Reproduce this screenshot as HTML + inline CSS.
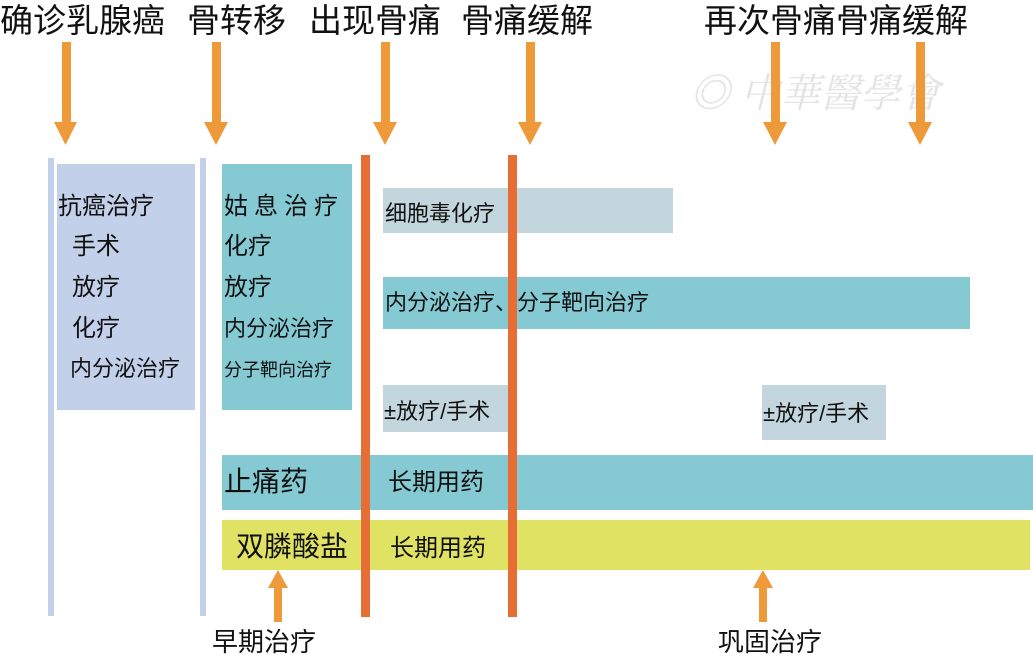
<!DOCTYPE html>
<html><head><meta charset="utf-8"><style>
body{margin:0;width:1033px;height:660px;background:#fff;position:relative;overflow:hidden;font-family:"Liberation Sans","Noto Sans CJK SC",sans-serif;color:#111}
div{position:absolute}
.t{font-size:33px;top:0;line-height:42px;white-space:nowrap}
.s{font-size:23px;white-space:nowrap;line-height:40px}
</style></head><body>
<div class="t" style="left:0">确诊乳腺癌</div>
<div class="t" style="left:187px">骨转移</div>
<div class="t" style="left:309px">出现骨痛</div>
<div class="t" style="left:461px">骨痛缓解</div>
<div class="t" style="left:704px">再次骨痛骨痛缓解</div>
<div style="left:690px;top:62px;font-size:40px;color:#e4e4e4;font-style:italic;white-space:nowrap;font-family:'Noto Serif CJK SC',serif">◎ 中華醫學會</div>

<svg width="1033" height="660" style="position:absolute;left:0;top:0">
<g fill="#ee9a3a">
<rect x="62" y="42" width="9" height="82"/><polygon points="54,122 77,122 65.5,145"/>
<rect x="212" y="42" width="9" height="82"/><polygon points="204,122 228,122 216,145"/>
<rect x="381" y="42" width="9" height="82"/><polygon points="373,122 397,122 385,145"/>
<rect x="526" y="42" width="9" height="82"/><polygon points="518,122 542,122 530,145"/>
<rect x="771" y="42" width="9" height="82"/><polygon points="763,122 787,122 775,145"/>
<rect x="916" y="42" width="9" height="82"/><polygon points="908,122 932,122 920,145"/>
<rect x="274" y="586" width="8" height="36"/><polygon points="268,588 288,588 278,570"/>
<rect x="759" y="586" width="8" height="36"/><polygon points="753,588 773,588 763,570"/>
</g>
<rect x="48" y="158" width="6" height="458" fill="#c3d0ea"/>
<rect x="200" y="158" width="6" height="458" fill="#c3d0ea"/>
<rect x="57" y="164" width="138" height="246" fill="#c3d0ea"/>
<rect x="222" y="164" width="130" height="246" fill="#85c9d3"/>
<rect x="383" y="188" width="290" height="45" fill="#c3d6dd"/>
<rect x="383" y="277" width="587" height="52" fill="#85c9d3"/>
<rect x="383" y="385" width="125" height="47" fill="#c3d6dd"/>
<rect x="762" y="385" width="124" height="55" fill="#c3d6dd"/>
<rect x="222" y="455" width="811" height="55" fill="#85c9d3"/>
<rect x="222" y="520" width="808" height="50" fill="#dfe262"/>
<rect x="361" y="155" width="9" height="462" fill="#e66e34"/>
<rect x="508" y="155" width="9" height="462" fill="#e66e34"/>
</svg>

<div class="s" style="left:58px;top:187px;font-size:24px">抗癌治疗</div>
<div class="s" style="left:72px;top:227px;font-size:24px">手术</div>
<div class="s" style="left:72px;top:268px;font-size:24px">放疗</div>
<div class="s" style="left:72px;top:309px;font-size:24px">化疗</div>
<div class="s" style="left:70px;top:349px;font-size:22px">内分泌治疗</div>
<div class="s" style="left:224px;top:187px;letter-spacing:6px;font-size:24px">姑息治疗</div>
<div class="s" style="left:224px;top:227px;font-size:24px">化疗</div>
<div class="s" style="left:224px;top:268px;font-size:24px">放疗</div>
<div class="s" style="left:224px;top:309px;font-size:22px">内分泌治疗</div>
<div class="s" style="left:224px;top:350px;font-size:18px">分子靶向治疗</div>
<div class="s" style="left:385px;top:194px;font-size:22px">细胞毒化疗</div>
<div class="s" style="left:385px;top:283px;font-size:22px">内分泌治疗、分子靶向治疗</div>
<div class="s" style="left:384px;top:392px;font-size:22px">±放疗/手术</div>
<div class="s" style="left:763px;top:394px;font-size:22px">±放疗/手术</div>
<div class="s" style="left:224px;top:462px;font-size:28px">止痛药</div>
<div class="s" style="left:388px;top:463px;font-size:24px">长期用药</div>
<div class="s" style="left:236px;top:527px;font-size:28px">双膦酸盐</div>
<div class="s" style="left:390px;top:529px;font-size:24px">长期用药</div>
<div class="s" style="left:212px;top:622px;font-size:26px">早期治疗</div>
<div class="s" style="left:718px;top:622px;font-size:26px">巩固治疗</div>
</body></html>
